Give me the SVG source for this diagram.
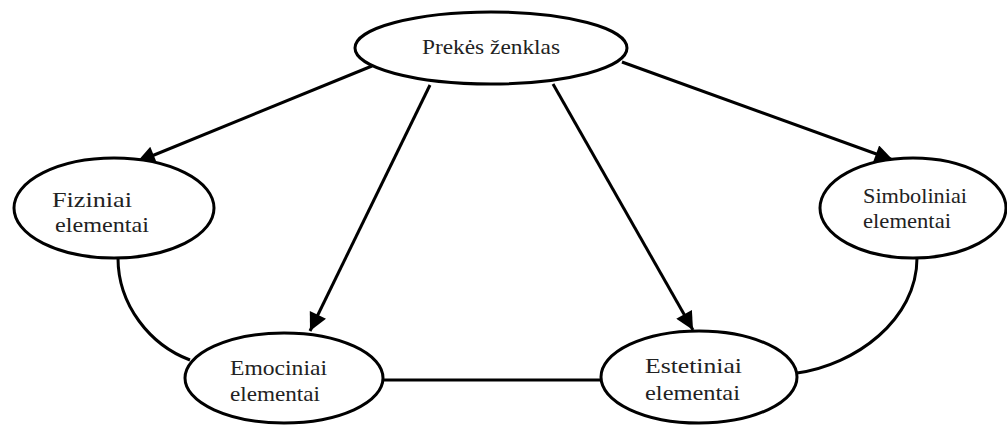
<svg xmlns="http://www.w3.org/2000/svg" width="1007" height="425" viewBox="0 0 1007 425">
<defs>
<style>
.node ellipse{fill:#fff;stroke:#000;stroke-width:3}
.node text{font-family:"Liberation Serif","Times New Roman",serif;font-size:22px;fill:#222}
.conn{fill:none;stroke:#000;stroke-width:3}
</style>
<marker id="arr" viewBox="0 0 10 10" refX="10" refY="5" markerWidth="7.5" markerHeight="6" markerUnits="strokeWidth" orient="auto">
<path d="M0,0 L10,5 L0,10 z" fill="#000"/>
</marker>
</defs>
<rect width="1007" height="425" fill="#fff"/>
<g id="connectors">
<path class="conn" d="M118,258 C118,305 150,345 190,360"/>
<path class="conn" d="M917,258 C917,320 855,365 797,373"/>
<path class="conn" d="M383,380 L600,380"/>
<path class="conn" d="M372,66 L137,162" marker-end="url(#arr)"/>
<path class="conn" d="M430,85 L310,331" marker-end="url(#arr)"/>
<path class="conn" d="M553,84 L693,330" marker-end="url(#arr)"/>
<path class="conn" d="M622,62 L893,160" marker-end="url(#arr)"/>
</g>
<g id="prekes" class="node">
<ellipse cx="491" cy="48" rx="136" ry="36"/>
<text x="422" y="54" textLength="138" lengthAdjust="spacingAndGlyphs">Prekės ženklas</text>
</g>
<g id="fiziniai" class="node">
<ellipse cx="114" cy="208" rx="100" ry="50"/>
<text x="52" y="207" textLength="80" lengthAdjust="spacingAndGlyphs">Fiziniai</text>
<text x="55" y="232" textLength="94" lengthAdjust="spacingAndGlyphs">elementai</text>
</g>
<g id="simboliniai" class="node">
<ellipse cx="913" cy="208" rx="93" ry="50"/>
<text x="863" y="203" textLength="104" lengthAdjust="spacingAndGlyphs">Simboliniai</text>
<text x="863" y="228" textLength="88" lengthAdjust="spacingAndGlyphs">elementai</text>
</g>
<g id="emociniai" class="node">
<ellipse cx="284" cy="378" rx="99" ry="45"/>
<text x="230" y="375" textLength="97" lengthAdjust="spacingAndGlyphs">Emociniai</text>
<text x="230" y="401" textLength="90" lengthAdjust="spacingAndGlyphs">elementai</text>
</g>
<g id="estetiniai" class="node">
<ellipse cx="699" cy="377" rx="98" ry="46"/>
<text x="645" y="373" textLength="97" lengthAdjust="spacingAndGlyphs">Estetiniai</text>
<text x="645" y="400" textLength="95" lengthAdjust="spacingAndGlyphs">elementai</text>
</g>
</svg>
